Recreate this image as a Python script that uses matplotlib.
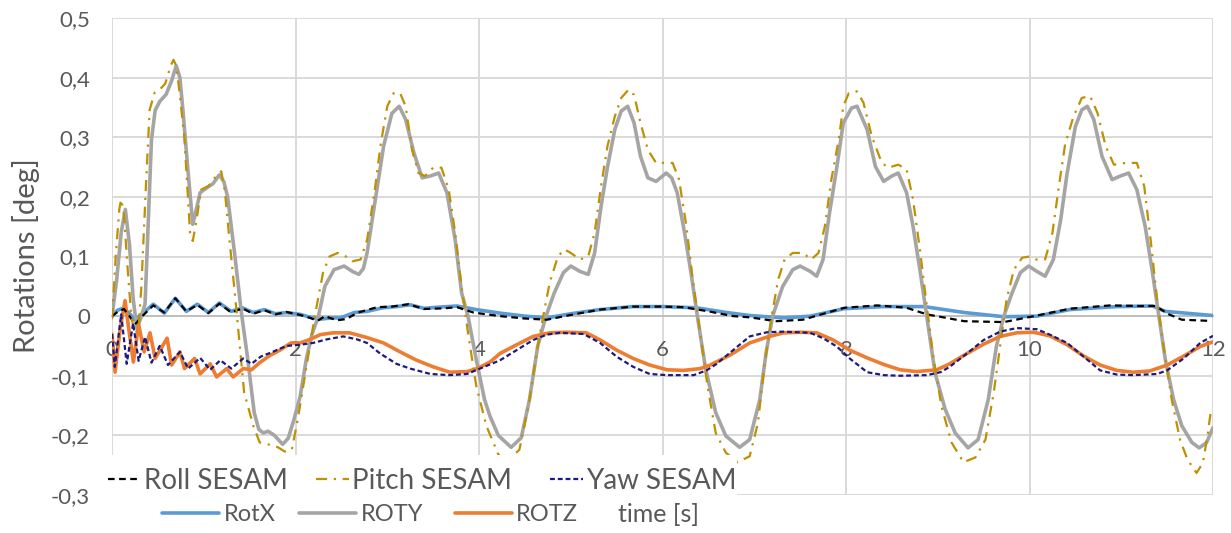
import matplotlib
matplotlib.use("Agg")
import matplotlib.pyplot as plt
from matplotlib.lines import Line2D
from matplotlib.patches import Rectangle

plt.rcParams['font.family'] = ['Lato', 'DejaVu Sans']

# values (time [s], rotation [deg])
roll_sesam = [(0.00, 0.0), (0.06, 0.007), (0.13, 0.012), (0.19, 0.0), (0.25, -0.014),
              (0.33, 0.0), (0.45, 0.018), (0.57, 0.006), (0.69, 0.03), (0.81, 0.008),
              (0.93, 0.019), (1.05, 0.005), (1.17, 0.021), (1.30, 0.006), (1.42, 0.013),
              (1.54, 0.004), (1.66, 0.01), (1.78, 0.003), (1.90, 0.007), (2.05, 0.002),
              (2.16, -0.003), (2.24, -0.008), (2.32, 0.0), (2.45, -0.007), (2.55, -0.005),
              (2.68, 0.006), (2.89, 0.015), (3.05, 0.016), (3.23, 0.02), (3.40, 0.012),
              (3.61, 0.013), (3.76, 0.015), (3.94, 0.006), (4.23, 0.0), (4.50, -0.004),
              (4.74, -0.006), (5.00, 0.002), (5.32, 0.011), (5.68, 0.016), (6.00, 0.016),
              (6.23, 0.015), (6.50, 0.008), (6.77, 0.0), (6.95, -0.002), (7.24, -0.0085),
              (7.53, -0.006), (7.98, 0.014), (8.34, 0.018), (8.66, 0.014), (8.88, 0.003),
              (9.29, -0.0085), (9.72, -0.01), (10.05, 0.0), (10.44, 0.0125), (10.88, 0.018),
              (11.20, 0.017), (11.37, 0.017), (11.52, 0.003), (11.66, -0.006), (11.97, -0.008)]

pitch_sesam = [(0.00, -0.005), (0.04, 0.10), (0.08, 0.18), (0.10, 0.196), (0.13, 0.17),
               (0.17, 0.08), (0.21, 0.0), (0.25, -0.03), (0.29, -0.02), (0.32, 0.05),
               (0.37, 0.22), (0.41, 0.346), (0.465, 0.375), (0.52, 0.38), (0.58, 0.39),
               (0.64, 0.42), (0.67, 0.43), (0.70, 0.42), (0.74, 0.37), (0.79, 0.296),
               (0.85, 0.14), (0.88, 0.126), (0.92, 0.16), (0.97, 0.212), (1.05, 0.218),
               (1.12, 0.232), (1.19, 0.243), (1.23, 0.21), (1.28, 0.128), (1.35, 0.02),
               (1.44, -0.128), (1.54, -0.184), (1.61, -0.212), (1.70, -0.215), (1.81, -0.22),
               (1.88, -0.227), (1.96, -0.224), (2.03, -0.168), (2.12, -0.084), (2.21, 0.0),
               (2.30, 0.073), (2.37, 0.10), (2.46, 0.106), (2.55, 0.10), (2.62, 0.092),
               (2.71, 0.095), (2.78, 0.128), (2.86, 0.207), (2.93, 0.29), (3.00, 0.352),
               (3.07, 0.374), (3.14, 0.374), (3.20, 0.352), (3.27, 0.279), (3.34, 0.24),
               (3.41, 0.235), (3.50, 0.249), (3.59, 0.249), (3.67, 0.212), (3.74, 0.14),
               (3.81, 0.05), (3.88, -0.028), (3.97, -0.117), (4.08, -0.184), (4.21, -0.232),
               (4.30, -0.245), (4.44, -0.224), (4.54, -0.15), (4.63, -0.06), (4.70, 0.0),
               (4.77, 0.056), (4.86, 0.10), (4.93, 0.112), (5.00, 0.106), (5.10, 0.095),
               (5.19, 0.10), (5.26, 0.14), (5.33, 0.218), (5.40, 0.285), (5.48, 0.335),
               (5.55, 0.366), (5.63, 0.38), (5.69, 0.371), (5.76, 0.324), (5.84, 0.279),
               (5.93, 0.257), (6.02, 0.257), (6.11, 0.257), (6.18, 0.229), (6.26, 0.151),
               (6.33, 0.061), (6.40, -0.017), (6.49, -0.117), (6.58, -0.196), (6.69, -0.229),
               (6.82, -0.245), (6.95, -0.235), (7.04, -0.179), (7.11, -0.084), (7.19, 0.0),
               (7.26, 0.061), (7.33, 0.095), (7.42, 0.106), (7.53, 0.106), (7.62, 0.095),
               (7.70, 0.106), (7.77, 0.151), (7.84, 0.229), (7.92, 0.296), (7.97, 0.352),
               (8.03, 0.374), (8.12, 0.377), (8.19, 0.358), (8.28, 0.302), (8.39, 0.257),
               (8.46, 0.249), (8.57, 0.254), (8.66, 0.246), (8.73, 0.196), (8.81, 0.106),
               (8.88, 0.017), (8.95, -0.067), (9.04, -0.151), (9.15, -0.212), (9.28, -0.245),
               (9.41, -0.237), (9.52, -0.207), (9.61, -0.128), (9.68, -0.05), (9.75, 0.028),
               (9.83, 0.078), (9.92, 0.098), (10.00, 0.10), (10.07, 0.095), (10.17, 0.095),
               (10.25, 0.14), (10.32, 0.218), (10.39, 0.29), (10.48, 0.335), (10.57, 0.366),
               (10.66, 0.369), (10.74, 0.341), (10.83, 0.285), (10.92, 0.254), (11.05, 0.257),
               (11.17, 0.257), (11.25, 0.218), (11.32, 0.128), (11.39, 0.028), (11.46, -0.05),
               (11.55, -0.14), (11.64, -0.207), (11.72, -0.24), (11.82, -0.263), (11.89, -0.246),
               (11.94, -0.20), (11.98, -0.155)]

yaw_sesam = [(0.00, -0.03), (0.03, -0.085), (0.10, 0.003), (0.16, -0.08), (0.23, -0.012),
             (0.29, -0.075), (0.36, -0.035), (0.43, -0.078), (0.52, -0.05), (0.61, -0.082),
             (0.74, -0.06), (0.83, -0.088), (0.96, -0.07), (1.07, -0.09), (1.18, -0.074),
             (1.30, -0.088), (1.43, -0.071), (1.52, -0.08), (1.62, -0.068), (1.75, -0.06),
             (1.90, -0.05), (2.05, -0.048), (2.19, -0.045), (2.34, -0.039), (2.52, -0.034),
             (2.67, -0.039), (2.78, -0.045), (2.92, -0.0625), (3.10, -0.080), (3.25, -0.088),
             (3.47, -0.097), (3.68, -0.099), (3.87, -0.097), (4.01, -0.088), (4.23, -0.074),
             (4.41, -0.057), (4.59, -0.040), (4.74, -0.031), (4.88, -0.028), (5.14, -0.030),
             (5.32, -0.045), (5.50, -0.068), (5.68, -0.085), (5.86, -0.097), (6.05, -0.099),
             (6.34, -0.099), (6.48, -0.091), (6.59, -0.080), (6.77, -0.057), (6.95, -0.034),
             (7.14, -0.027), (7.32, -0.026), (7.61, -0.028), (7.75, -0.037), (7.90, -0.051),
             (8.04, -0.071), (8.23, -0.094), (8.41, -0.099), (8.59, -0.100), (8.88, -0.099),
             (9.03, -0.094), (9.13, -0.085), (9.32, -0.0625), (9.50, -0.040), (9.68, -0.026),
             (9.86, -0.020), (10.08, -0.022), (10.22, -0.031), (10.41, -0.045), (10.59, -0.068),
             (10.77, -0.091), (10.95, -0.098), (11.13, -0.099), (11.39, -0.097), (11.50, -0.091),
             (11.68, -0.071), (11.86, -0.045), (12.00, -0.033)]

rotx = [(0.00, 0.0), (0.06, 0.01), (0.12, 0.013), (0.18, 0.006), (0.25, -0.006),
        (0.33, 0.004), (0.45, 0.02), (0.57, 0.005), (0.69, 0.03), (0.81, 0.008),
        (0.93, 0.02), (1.05, 0.006), (1.17, 0.022), (1.30, 0.008), (1.42, 0.014),
        (1.54, 0.006), (1.66, 0.011), (1.78, 0.004), (1.90, 0.006), (2.05, 0.003),
        (2.16, -0.002), (2.27, -0.005), (2.40, -0.003), (2.49, -0.003), (2.64, 0.006),
        (2.78, 0.008), (2.95, 0.014), (3.10, 0.016), (3.25, 0.019), (3.40, 0.013),
        (3.55, 0.015), (3.76, 0.017), (3.97, 0.011), (4.23, 0.005), (4.50, 0.0),
        (4.74, -0.003), (5.00, 0.004), (5.32, 0.011), (5.68, 0.016), (6.00, 0.016),
        (6.37, 0.014), (6.70, 0.006), (6.95, 0.001), (7.32, -0.003), (7.61, 0.0),
        (7.98, 0.0125), (8.41, 0.016), (8.85, 0.016), (9.29, 0.006), (9.72, -0.001),
        (10.08, 0.0), (10.44, 0.011), (10.95, 0.016), (11.34, 0.017), (11.48, 0.008),
        (12.00, 0.001)]

roty = [(0.00, 0.000), (0.05, 0.060), (0.10, 0.140), (0.145, 0.179), (0.19, 0.120),
        (0.23, 0.030), (0.27, -0.020), (0.31, -0.005), (0.36, 0.020), (0.40, 0.180),
        (0.43, 0.296), (0.47, 0.345), (0.52, 0.360), (0.59, 0.372), (0.65, 0.395),
        (0.70, 0.420), (0.74, 0.400), (0.77, 0.350), (0.83, 0.240), (0.88, 0.154),
        (0.92, 0.180), (0.96, 0.207), (1.03, 0.215), (1.10, 0.222), (1.17, 0.237),
        (1.22, 0.225), (1.26, 0.200), (1.30, 0.150), (1.34, 0.100), (1.41, 0.006),
        (1.48, -0.073), (1.55, -0.162), (1.60, -0.190), (1.65, -0.196), (1.70, -0.193),
        (1.77, -0.200), (1.86, -0.215), (1.92, -0.205), (1.98, -0.175), (2.05, -0.135),
        (2.12, -0.070), (2.18, -0.030), (2.25, 0.000), (2.32, 0.050), (2.42, 0.078),
        (2.53, 0.084), (2.62, 0.075), (2.69, 0.070), (2.74, 0.080), (2.78, 0.106),
        (2.87, 0.196), (2.96, 0.285), (3.05, 0.340), (3.13, 0.352), (3.20, 0.330),
        (3.29, 0.274), (3.38, 0.232), (3.47, 0.235), (3.56, 0.240), (3.65, 0.207),
        (3.74, 0.128), (3.81, 0.039), (3.88, 0.000), (3.97, -0.073), (4.06, -0.140),
        (4.12, -0.168), (4.21, -0.200), (4.35, -0.220), (4.46, -0.204), (4.55, -0.140),
        (4.64, -0.050), (4.73, 0.000), (4.82, 0.039), (4.92, 0.073), (5.00, 0.084),
        (5.10, 0.075), (5.19, 0.070), (5.26, 0.106), (5.33, 0.184), (5.40, 0.250),
        (5.48, 0.313), (5.55, 0.344), (5.62, 0.352), (5.69, 0.324), (5.76, 0.268),
        (5.84, 0.232), (5.93, 0.226), (6.04, 0.240), (6.10, 0.232), (6.16, 0.207),
        (6.24, 0.140), (6.31, 0.073), (6.38, 0.000), (6.47, -0.089), (6.58, -0.162),
        (6.69, -0.201), (6.84, -0.220), (6.95, -0.207), (7.06, -0.140), (7.13, -0.060),
        (7.20, 0.000), (7.31, 0.050), (7.42, 0.078), (7.50, 0.084), (7.61, 0.075),
        (7.68, 0.067), (7.75, 0.095), (7.82, 0.173), (7.90, 0.250), (7.97, 0.324),
        (8.06, 0.349), (8.12, 0.352), (8.23, 0.313), (8.32, 0.251), (8.41, 0.226),
        (8.50, 0.235), (8.57, 0.240), (8.66, 0.207), (8.73, 0.151), (8.81, 0.073),
        (8.88, 0.000), (8.97, -0.095), (9.08, -0.156), (9.19, -0.196), (9.33, -0.221),
        (9.44, -0.207), (9.55, -0.140), (9.64, -0.050), (9.72, 0.000), (9.81, 0.039),
        (9.90, 0.073), (9.99, 0.084), (10.08, 0.075), (10.17, 0.067), (10.26, 0.095),
        (10.34, 0.162), (10.41, 0.240), (10.50, 0.318), (10.57, 0.346), (10.63, 0.352),
        (10.70, 0.330), (10.79, 0.268), (10.90, 0.229), (10.99, 0.235), (11.08, 0.240),
        (11.17, 0.212), (11.26, 0.151), (11.34, 0.073), (11.41, 0.000), (11.48, -0.073),
        (11.57, -0.140), (11.66, -0.184), (11.77, -0.212), (11.85, -0.221), (11.93, -0.212),
        (12.00, -0.187)]

rotz = [(0.00, -0.03), (0.033, -0.094), (0.09, -0.02), (0.142, 0.026), (0.19, -0.03),
        (0.233, -0.077), (0.29, -0.014), (0.35, -0.06), (0.414, -0.028), (0.47, -0.071),
        (0.60, -0.037), (0.65, -0.082), (0.74, -0.06), (0.79, -0.088), (0.90, -0.071),
        (0.96, -0.097), (1.07, -0.08), (1.14, -0.102), (1.25, -0.088), (1.32, -0.102),
        (1.43, -0.088), (1.52, -0.09), (1.61, -0.078), (1.72, -0.066), (1.83, -0.057),
        (1.95, -0.045), (2.05, -0.045), (2.16, -0.039), (2.27, -0.031), (2.41, -0.028),
        (2.59, -0.028), (2.78, -0.036), (2.96, -0.045), (3.14, -0.060), (3.32, -0.074),
        (3.50, -0.085), (3.68, -0.094), (3.87, -0.093), (3.98, -0.088), (4.12, -0.077),
        (4.23, -0.0625), (4.41, -0.048), (4.59, -0.034), (4.77, -0.028), (4.96, -0.027),
        (5.17, -0.028), (5.32, -0.040), (5.50, -0.057), (5.68, -0.071), (5.86, -0.082),
        (6.05, -0.090), (6.23, -0.091), (6.41, -0.088), (6.52, -0.082), (6.74, -0.065),
        (6.95, -0.045), (7.14, -0.035), (7.32, -0.028), (7.50, -0.027), (7.68, -0.028),
        (7.86, -0.040), (8.04, -0.057), (8.23, -0.070), (8.41, -0.081), (8.59, -0.090),
        (8.77, -0.093), (8.99, -0.090), (9.13, -0.080), (9.32, -0.0625), (9.50, -0.047),
        (9.68, -0.034), (9.86, -0.028), (10.04, -0.027), (10.22, -0.033), (10.41, -0.048),
        (10.59, -0.067), (10.77, -0.082), (10.95, -0.091), (11.13, -0.094), (11.31, -0.092),
        (11.50, -0.082), (11.68, -0.067), (11.86, -0.051), (12.00, -0.043)]

x_ticks = [0, 2, 4, 6, 8, 10, 12]
y_ticks = [-0.3, -0.2, -0.1, 0.0, 0.1, 0.2, 0.3, 0.4, 0.5]
y_tick_labels = ['-0,3', '-0,2', '-0,1', '0', '0,1', '0,2', '0,3', '0,4', '0,5']

txt = '#595959'
grid = '#D9D9D9'

fig = plt.figure(figsize=(12.31, 5.33), dpi=100)
ax = fig.add_axes([0.0910, 0.0713, 0.8944, 0.8949])

def xy(series):
    t, v = zip(*series)
    return list(t), list(v)

styles = {
    'RotX': dict(color='#5B9BD5', lw=2.6, solid_capstyle='round'),
    'ROTY': dict(color='#A5A5A5', lw=2.6, solid_capstyle='round'),
    'ROTZ': dict(color='#ED7D31', lw=2.6, solid_capstyle='round'),
    'Roll SESAM': dict(color='black', lw=1.6, ls=(0, (3, 2))),
    'Pitch SESAM': dict(color='#BF9000', lw=1.6, ls=(0, (5, 3, 1, 3))),
    'Yaw SESAM': dict(color='#1A1A80', lw=1.6, ls=(0, (2.2, 1.3))),
}

# CFD results (solid) first, SESAM results (dashed) on top
ax.plot(*xy(rotx), zorder=3, **styles['RotX'])
ax.plot(*xy(roty), zorder=3, **styles['ROTY'])
ax.plot(*xy(rotz), zorder=3, **styles['ROTZ'])
ax.plot(*xy(roll_sesam), zorder=4, **styles['Roll SESAM'])
ax.plot(*xy(pitch_sesam), zorder=4, **styles['Pitch SESAM'])
ax.plot(*xy(yaw_sesam), zorder=4, **styles['Yaw SESAM'])

ax.set_xlim(0, 12)
ax.set_ylim(-0.3, 0.5)
ax.set_xticks(x_ticks)
ax.set_xticklabels([str(v) for v in x_ticks])
ax.set_yticks(y_ticks)
ax.set_yticklabels(y_tick_labels)
ax.grid(True, color=grid, lw=1.4)
ax.set_axisbelow(True)
for s in ['top', 'right', 'left']:
    ax.spines[s].set_visible(False)
ax.spines['bottom'].set_position(('data', 0))
ax.spines['bottom'].set_color('#BFBFBF')
ax.spines['bottom'].set_linewidth(1.4)
ax.spines['bottom'].set_zorder(2)
ax.tick_params(axis='x', length=0, pad=17, labelsize=16, labelcolor=txt)
ax.tick_params(axis='y', length=0, pad=16, labelsize=16, labelcolor=txt)

fig.text(0.0215, 0.52, 'Rotations [deg]', rotation=90, ha='center', va='center',
         fontsize=21, color=txt)

# white legend area covering the lower left of the plot
fig.add_artist(Rectangle((0.0812, 0.0), 0.5175, 0.1463, transform=fig.transFigure,
                         facecolor='white', edgecolor='none', zorder=5))

# legend entries placed one by one (Excel spacing is uneven)
row1 = [('Roll SESAM', 0.0877), ('Pitch SESAM', 0.2567), ('Yaw SESAM', 0.4465)]
row2 = [('RotX', 0.1316), ('ROTY', 0.2429), ('ROTZ', 0.3696)]

for name, x0 in row1:
    h = Line2D([], [], **styles[name])
    leg = fig.legend([h], [name], loc='center left', bbox_to_anchor=(x0, 0.0975),
                     frameon=False, fontsize=20, handlelength=1.2, handletextpad=0.1,
                     borderpad=0, borderaxespad=0, labelcolor=txt)
    leg.set_zorder(6)

for name, x0 in row2:
    h = Line2D([], [], **styles[name])
    leg = fig.legend([h], [name], loc='center left', bbox_to_anchor=(x0, 0.0338),
                     frameon=False, fontsize=17, handlelength=2.4, handletextpad=0.2,
                     borderpad=0, borderaxespad=0, labelcolor=txt)
    leg.set_zorder(6)

fig.text(0.502, 0.0338, 'time [s]', ha='left', va='center', fontsize=18, color=txt,
         zorder=6)

fig.savefig('out.png', dpi=100)
